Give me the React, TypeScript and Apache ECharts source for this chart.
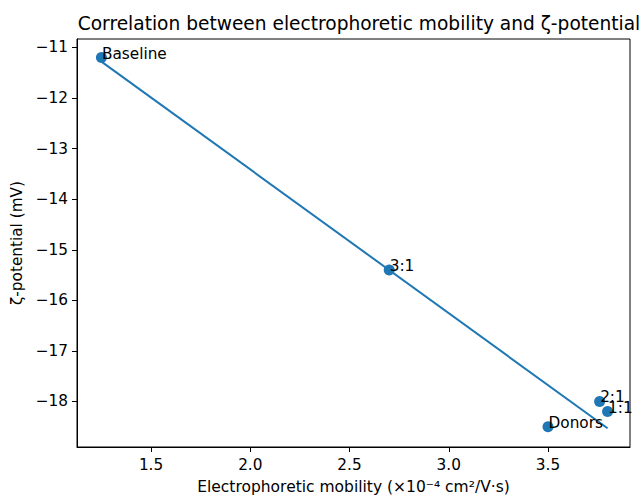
import React, { useEffect, useRef } from "react";
import * as echarts from "echarts";

const labels = ["Baseline", "3:1", "Donors", "2:1", "1:1"];
const mobility = [1.25, 2.7, 3.5, 3.76, 3.8];
const zeta = [-11.2, -15.4, -18.5, -18.0, -18.2];
const fitX = [1.25, 3.8];
const fitY = [-11.28, -18.53];
const xTicks = [1.5, 2.0, 2.5, 3.0, 3.5];
const yTicks = [-18, -17, -16, -15, -14, -13, -12, -11];

const FONT = "DejaVu Sans";
const BLUE = "#1f77b4";

export default function App() {
  const ref = useRef<HTMLDivElement>(null);
  useEffect(() => {
    if (!ref.current) return;
    const chart = echarts.init(ref.current, null, { renderer: "svg" });
    const fmtY = (v: number) => (v < 0 ? "\u2212" + Math.abs(v) : String(v));
    chart.setOption({
      animation: false,
      backgroundColor: "#fff",
      textStyle: { fontFamily: FONT },
      title: {
        text: "Correlation between electrophoretic mobility and \u03B6-potential",
        left: 354,
        top: 9,
        textAlign: "center",
        textStyle: { fontFamily: FONT, fontSize: 18.6, fontWeight: "normal", color: "#000" },
      },
      grid: {
        left: 77,
        right: 9,
        top: 39,
        bottom: 48,
        show: true,
        borderColor: "#000",
        borderWidth: 1,
        backgroundColor: "transparent",
      },
      xAxis: {
        type: "value",
        min: 1.127,
        max: 3.913,
        name: "Electrophoretic mobility (\u00D710\u207B\u2074 cm\u00B2/V\u00B7s)",
        nameLocation: "middle",
        nameGap: 32,
        nameTextStyle: { fontFamily: FONT, fontSize: 15.5, color: "#000" },
        axisLine: { show: true, lineStyle: { color: "#000", width: 1 } },
        axisTick: { show: true, length: 5, inside: false, customValues: xTicks, lineStyle: { color: "#000" } },
        axisLabel: {
          customValues: xTicks,
          margin: 10,
          fontFamily: FONT,
          fontSize: 15.3,
          color: "#000",
          formatter: (v: number) => v.toFixed(1),
        },
        splitLine: { show: false },
      },
      yAxis: {
        type: "value",
        min: -18.9,
        max: -10.833,
        name: "\u03B6-potential (mV)",
        nameLocation: "middle",
        nameRotate: 90,
        nameGap: 52,
        nameTextStyle: { fontFamily: FONT, fontSize: 15.3, color: "#000" },
        axisLine: { show: true, lineStyle: { color: "#000", width: 1 } },
        axisTick: { show: true, length: 5, inside: false, customValues: yTicks, lineStyle: { color: "#000" } },
        axisLabel: {
          customValues: yTicks,
          margin: 9,
          fontFamily: FONT,
          fontSize: 15.3,
          color: "#000",
          formatter: fmtY,
        },
        splitLine: { show: false },
      },
      series: [
        {
          type: "line",
          data: fitX.map((x, i) => [x, fitY[i]]),
          symbol: "none",
          lineStyle: { color: BLUE, width: 2 },
          z: 2,
        },
        {
          type: "scatter",
          data: mobility.map((x, i) => ({ value: [x, zeta[i]], name: labels[i] })),
          symbolSize: 11,
          itemStyle: { color: BLUE, opacity: 1 },
          z: 3,
          label: {
            show: true,
            position: [6, 9],
            align: "left",
            verticalAlign: "bottom",
            formatter: (p: any) => p.name,
            fontFamily: FONT,
            fontSize: 15.3,
            color: "#000",
          },
        },
      ],
    });
    return () => chart.dispose();
  }, []);
  return <div ref={ref} style={{ width: 639, height: 500, position: "absolute", left: 0, top: 0 }} />;
}
